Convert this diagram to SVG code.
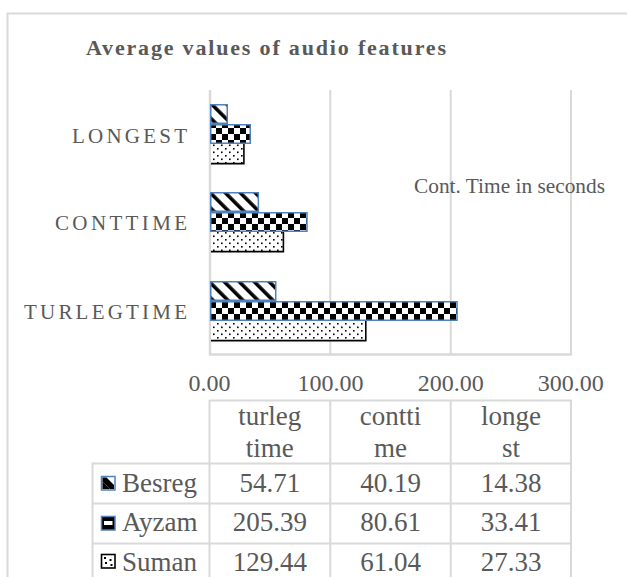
<svg xmlns="http://www.w3.org/2000/svg" width="627" height="577" viewBox="0 0 627 577">
<style>
.t{font-family:"Liberation Serif","Times New Roman",serif;fill:#595959}
.title{font-size:22px;font-weight:bold}
.cat{font-size:21px}
.ax{font-size:24px;text-anchor:middle}
.tb{font-size:27px;text-anchor:middle}
.lg{font-size:27px}
.grid{stroke:#d9d9d9;stroke-width:2;fill:none}
.axis{stroke:#d9d9d9;stroke-width:2.5;fill:none}
.bs{stroke:#4f81bd;stroke-width:1.5}
.sb{stroke:#000;stroke-width:1.6}
</style>
<defs>
<pattern id="stripe" patternUnits="userSpaceOnUse" width="10.6" height="10.6" patternTransform="rotate(-45)">
<rect width="10.6" height="10.6" fill="#fff"/>
<rect x="0" y="0" width="3.6" height="10.6" fill="#000"/>
</pattern>
<pattern id="checker" patternUnits="userSpaceOnUse" x="210" y="302" width="12" height="12">
<rect width="12" height="12" fill="#fff"/>
<rect x="0" y="0" width="6" height="6" fill="#000"/>
<rect x="6" y="6" width="6" height="6" fill="#000"/>
</pattern>
<pattern id="dots" patternUnits="userSpaceOnUse" width="8" height="7">
<rect width="8" height="7" fill="#fff"/>
<rect x="1" y="1" width="1.6" height="1.6" fill="#000"/>
<rect x="5" y="4.5" width="1.6" height="1.6" fill="#000"/>
</pattern>
</defs>
<rect x="0" y="0" width="627" height="577" fill="#fff"/>
<rect x="7.5" y="13.5" width="640" height="600" fill="#fff" stroke="#d9d9d9" stroke-width="2"/>

<g id="title">
<text class="t title" x="86" y="54.5" textLength="360" lengthAdjust="spacing">Average values of audio features</text>
</g>

<g id="plot-grid">
<line class="grid" x1="330.3" y1="90" x2="330.3" y2="354"/>
<line class="grid" x1="450.7" y1="90" x2="450.7" y2="354"/>
<line class="grid" x1="571" y1="90" x2="571" y2="354"/>
<line class="axis" x1="210" y1="90" x2="210" y2="355"/>
<line class="axis" x1="209" y1="354.5" x2="572" y2="354.5"/>
</g>

<g id="category-labels">
<text class="t cat" x="72" y="142.5" textLength="115" lengthAdjust="spacing">LONGEST</text>
<text class="t cat" x="55" y="230" textLength="132" lengthAdjust="spacing">CONTTIME</text>
<text class="t cat" x="24" y="319" textLength="163" lengthAdjust="spacing">TURLEGTIME</text>
</g>

<g id="axis-label">
<text class="t" style="font-size:21px" x="414" y="192.5" textLength="191" lengthAdjust="spacingAndGlyphs">Cont. Time in seconds</text>
</g>

<g id="bars-longest">
<rect class="bs" x="210.75" y="104.75" width="16.5" height="18.5" fill="url(#stripe)"/>
<rect class="bs" x="210.75" y="124.75" width="39.5" height="18.5" fill="url(#checker)"/>
<rect x="211" y="144" width="32.9" height="20" fill="url(#dots)"/>
<polyline class="sb" points="243.9,144 243.9,163.6 211,163.6" fill="none"/>
</g>
<g id="bars-conttime">
<rect class="bs" x="210.75" y="192.75" width="47.6" height="18.5" fill="url(#stripe)"/>
<rect class="bs" x="210.75" y="212.75" width="96.2" height="18.5" fill="url(#checker)"/>
<rect x="211" y="232" width="72.4" height="20" fill="url(#dots)"/>
<polyline class="sb" points="283.4,232 283.4,251.6 211,251.6" fill="none"/>
</g>
<g id="bars-turlegtime">
<rect class="bs" x="210.75" y="281.75" width="65" height="18.5" fill="url(#stripe)"/>
<rect class="bs" x="210.75" y="301.75" width="246.3" height="18.5" fill="url(#checker)"/>
<rect x="211" y="321" width="154.8" height="20" fill="url(#dots)"/>
<polyline class="sb" points="365.8,321 365.8,340.6 211,340.6" fill="none"/>
</g>

<g id="x-axis-labels">
<text class="t ax" x="209.5" y="390.5">0.00</text>
<text class="t ax" x="330.5" y="390.5">100.00</text>
<text class="t ax" x="450.8" y="390.5">200.00</text>
<text class="t ax" x="570.8" y="390.5">300.00</text>
</g>

<g id="data-table">
<line class="grid" x1="209" y1="400.5" x2="572" y2="400.5"/>
<line class="grid" x1="92.5" y1="463.5" x2="572" y2="463.5"/>
<line class="grid" x1="92.5" y1="503.5" x2="572" y2="503.5"/>
<line class="grid" x1="92.5" y1="543.5" x2="572" y2="543.5"/>
<line class="grid" x1="92.5" y1="462.5" x2="92.5" y2="577"/>
<line class="grid" x1="209.5" y1="400" x2="209.5" y2="577"/>
<line class="grid" x1="330.3" y1="400" x2="330.3" y2="577"/>
<line class="grid" x1="450.7" y1="400" x2="450.7" y2="577"/>
<line class="grid" x1="571" y1="400" x2="571" y2="577"/>
<text class="t tb" x="269.8" y="424.5">turleg</text>
<text class="t tb" x="269.8" y="456.5">time</text>
<text class="t tb" x="390.5" y="424.5">contti</text>
<text class="t tb" x="390.5" y="456.5">me</text>
<text class="t tb" x="511" y="424.5">longe</text>
<text class="t tb" x="511" y="456.5">st</text>
</g>

<g id="row-besreg">
<rect x="101.5" y="476.5" width="13.5" height="13.5" fill="#fff" stroke="#4f81bd" stroke-width="1.5"/>
<polygon points="102.5,477.5 106.5,477.5 114,485 114,489 110,489 102.5,481.5" fill="#000"/>
<polygon points="102.5,481.5 110,489 102.5,489" fill="#000"/>
<text class="t lg" x="122" y="491.5">Besreg</text>
<text class="t tb" x="269.8" y="491.5">54.71</text>
<text class="t tb" x="390.5" y="491.5">40.19</text>
<text class="t tb" x="511" y="491.5">14.38</text>
</g>
<g id="row-ayzam">
<rect x="101.5" y="516.5" width="13.5" height="13.5" fill="#000" stroke="#4f81bd" stroke-width="1.5"/>
<rect x="104" y="521" width="8.5" height="4" fill="#fff"/>
<text class="t lg" x="122" y="531">Ayzam</text>
<text class="t tb" x="269.8" y="531">205.39</text>
<text class="t tb" x="390.5" y="531">80.61</text>
<text class="t tb" x="511" y="531">33.41</text>
</g>
<g id="row-suman">
<rect x="101.5" y="554.5" width="13.5" height="13.5" fill="#fff" stroke="#000" stroke-width="1.6"/>
<rect x="104" y="557" width="2" height="2" fill="#000"/>
<rect x="109.5" y="559" width="2" height="2" fill="#000"/>
<rect x="105" y="562" width="2" height="2" fill="#000"/>
<rect x="110.5" y="564" width="2" height="2" fill="#000"/>
<text class="t lg" x="122" y="570.5">Suman</text>
<text class="t tb" x="269.8" y="570.5">129.44</text>
<text class="t tb" x="390.5" y="570.5">61.04</text>
<text class="t tb" x="511" y="570.5">27.33</text>
</g>
</svg>
